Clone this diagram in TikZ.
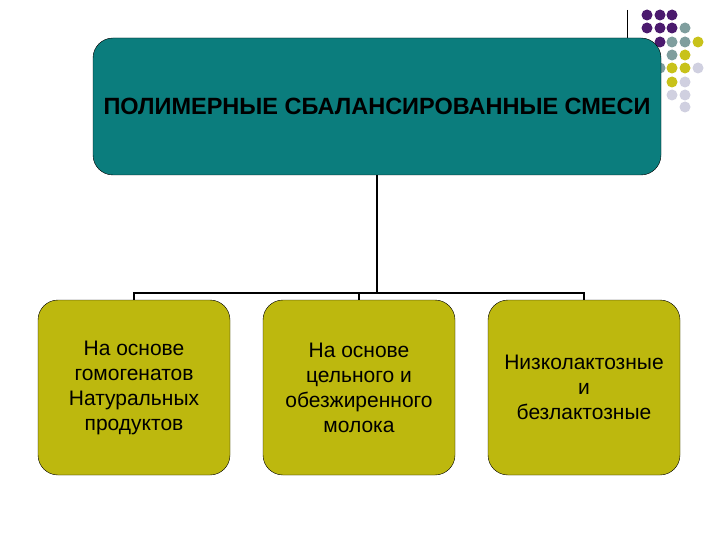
\documentclass[tikz,border=0pt]{standalone}
\usepackage{fontspec}
\setmainfont{Liberation Sans}
\begin{document}
\begin{tikzpicture}[x=1pt,y=-1pt,
 sub/.style={draw=black,fill=olive1,rounded corners=20pt,minimum width=192pt,minimum height=175pt,align=center,font=\fontsize{21}{25}\selectfont,inner sep=0pt},
 conn/.style={line width=1.6pt}]
\definecolor{purp}{HTML}{4B1A6E}
\definecolor{grayb}{HTML}{7F9E9E}
\definecolor{yel}{HTML}{C8C21A}
\definecolor{lite}{HTML}{D0D0E0}
\definecolor{teal1}{HTML}{0B7D7D}
\definecolor{olive1}{HTML}{BDB80E}
\useasboundingbox (0,0) rectangle (720,540);
\fill[white] (0,0) rectangle (720,540);
\draw (627,10) -- (627,38);
\foreach \x/\y/\c in {647/15/purp,660/15/purp,672/15/purp,
 647/28/purp,660/28/purp,672/28/purp,685/28/grayb,
 660/42/purp,672/42/grayb,685/42/grayb,698/42/yel,
 672/55/grayb,685/55/yel,
 660/68/grayb,672/68/yel,685/68/yel,698/68/lite,
 672/82/yel,685/82/lite,
 672/95/lite,685/95/lite,
 685/107/lite}
 \fill[\c] (\x,\y) circle (5.5pt);
\node[draw=black,fill=teal1,rounded corners=20pt,minimum width=568pt,minimum height=137pt,inner sep=0pt] (top) at (377,106.5) {};
\node[font=\bfseries\fontsize{23.5}{28}\selectfont,inner sep=0pt] (tt) at (377,106.5) {ПОЛИМЕРНЫЕ СБАЛАНСИРОВАННЫЕ СМЕСИ};
\node[sub] (a) at (134,387.5) {На основе\\гомогенатов\\Натуральных\\продуктов};
\node[sub] (b) at (359,387.5) {На основе\\цельного и\\обезжиренного\\молока};
\node[sub] (c) at (584,387.5) {Низколактозные\\и\\безлактозные};
\coordinate (m) at (377,293);
\draw[conn] (top.south) -- (m);
\draw[conn] (a.north) -- ++(0,-7) -| (c.north);
\draw[conn] (b.north) -- ++(0,-7);
\end{tikzpicture}
\end{document}
